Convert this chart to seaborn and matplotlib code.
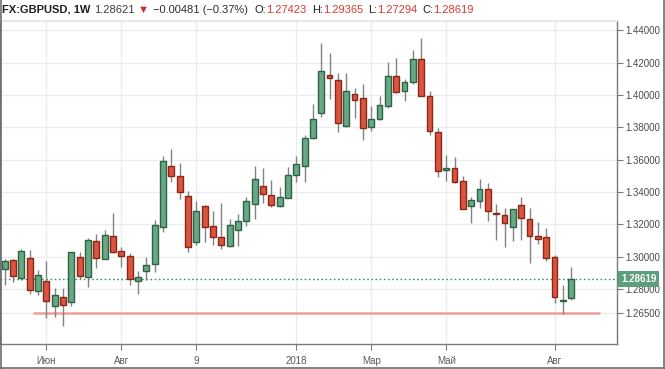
import numpy as np
import pandas as pd
import matplotlib
matplotlib.use("Agg")
import matplotlib.pyplot as plt
import matplotlib.transforms as mtransforms
from matplotlib.lines import Line2D
import seaborn as sns

# weekly GBPUSD candles, May 2017 -> Aug 2018
opens = [1.2922, 1.2980, 1.2868, 1.2990, 1.2786, 1.2850, 1.2695, 1.2749, 1.2718, 1.3000,
         1.2873, 1.3094, 1.2988, 1.3125, 1.3035, 1.3007, 1.2848, 1.2913, 1.2955, 1.3182,
         1.3563, 1.3497, 1.3374, 1.3091, 1.3314, 1.3188, 1.3122, 1.3067, 1.3163, 1.3220,
         1.3326, 1.3440, 1.3382, 1.3314, 1.3366, 1.3505, 1.3561, 1.3732, 1.3889, 1.4126,
         1.4091, 1.3808, 1.4006, 1.3980, 1.3800, 1.3850, 1.3932, 1.4119, 1.4023, 1.4079,
         1.4221, 1.3996, 1.3771, 1.3539, 1.3547, 1.3467, 1.3315, 1.3343, 1.3417, 1.3268,
         1.3255, 1.3186, 1.3321, 1.3231, 1.3125, 1.3120, 1.2996, 1.2726, 1.27423]
highs = [1.2986, 1.2986, 1.3048, 1.3041, 1.2918, 1.2973, 1.2806, 1.2805, 1.3032, 1.3027,
         1.3116, 1.3140, 1.3165, 1.3272, 1.3058, 1.3023, 1.2912, 1.2996, 1.3227, 1.3623,
         1.3666, 1.3578, 1.3406, 1.3346, 1.3317, 1.3283, 1.3329, 1.3233, 1.3267, 1.3369,
         1.3561, 1.3549, 1.3474, 1.3433, 1.3557, 1.3623, 1.3753, 1.3944, 1.4323, 1.4262,
         1.4138, 1.4134, 1.4041, 1.4066, 1.3930, 1.3994, 1.4204, 1.4227, 1.4097, 1.4278,
         1.4353, 1.4025, 1.3794, 1.3627, 1.3617, 1.3499, 1.3369, 1.3479, 1.3454, 1.3326,
         1.3301, 1.3295, 1.3370, 1.3300, 1.3216, 1.3176, 1.3009, 1.2825, 1.29365]
lows = [1.2825, 1.2844, 1.2856, 1.2769, 1.2763, 1.2619, 1.2624, 1.2571, 1.2695, 1.2862,
        1.2810, 1.2933, 1.2983, 1.3025, 1.2938, 1.2825, 1.2769, 1.2856, 1.2907, 1.3151,
        1.3460, 1.3355, 1.3032, 1.3072, 1.3093, 1.3072, 1.3046, 1.3063, 1.3067, 1.3191,
        1.3231, 1.3330, 1.3306, 1.3310, 1.3363, 1.3464, 1.3464, 1.3728, 1.3862, 1.3977,
        1.3769, 1.3805, 1.3860, 1.3720, 1.3776, 1.3845, 1.3917, 1.4012, 1.3965, 1.4068,
        1.3994, 1.3753, 1.3493, 1.3470, 1.3456, 1.3295, 1.3210, 1.3304, 1.3218, 1.3105,
        1.3057, 1.3099, 1.3106, 1.2959, 1.3077, 1.2975, 1.2712, 1.2644, 1.27294]
closes = [1.2973, 1.2878, 1.3035, 1.2791, 1.2885, 1.2724, 1.2765, 1.2703, 1.3026, 1.2878,
          1.3102, 1.2990, 1.3136, 1.3031, 1.3006, 1.2864, 1.2874, 1.2947, 1.3193, 1.3592,
          1.3496, 1.3400, 1.3062, 1.3283, 1.3186, 1.3124, 1.3072, 1.3193, 1.3221, 1.3344,
          1.3479, 1.3388, 1.3320, 1.3367, 1.3507, 1.3571, 1.3732, 1.3850, 1.4147, 1.4107,
          1.3825, 1.4023, 1.3967, 1.3798, 1.3850, 1.3938, 1.4119, 1.4017, 1.4080, 1.4221,
          1.3996, 1.3776, 1.3528, 1.3547, 1.3460, 1.3298, 1.3349, 1.3417, 1.3281, 1.3261,
          1.3207, 1.3293, 1.3237, 1.3129, 1.3108, 1.2994, 1.2753, 1.2732, 1.28619]

month_ticks = [5, 14, 23, 35, 44, 53, 66]
month_labels = ["Июн", "Авг", "9", "2018", "Мар", "Май", "Авг"]
price_ticks = [1.265, 1.28, 1.30, 1.32, 1.34, 1.36, 1.38, 1.40, 1.42, 1.44]

last_price = 1.28619
support_level = 1.265
support_from, support_to = 3.4, 71.5

GREEN, GREEN_EDGE = "#6aa784", "#2a6444"
RED, RED_EDGE = "#d9553f", "#8c2618"
WICK = "#838383"

df = pd.DataFrame({"open": opens, "high": highs, "low": lows, "close": closes})
df["week"] = np.arange(len(df))
df["up"] = df["close"] >= df["open"]

sns.set_theme(style="whitegrid", rc={"grid.color": "#ececec", "grid.linewidth": 1.0,
                                     "axes.edgecolor": "#7a7a7a"})
plt.rcParams["font.family"] = ["Liberation Sans", "DejaVu Sans"]

fig = plt.figure(figsize=(6.65, 3.69), dpi=100)
fig.patch.set_facecolor("white")
ax = fig.add_axes([0, 25 / 369, 617 / 665, 323 / 369])

# wicks then bodies
ax.vlines(df["week"], df["low"], df["high"], color=WICK, lw=1, zorder=2)
for is_up, fc, ec in [(True, GREEN, GREEN_EDGE), (False, RED, RED_EDGE)]:
    sub = df[df["up"] == is_up]
    body = (sub["close"] - sub["open"]).abs()
    ax.bar(sub["week"], body, bottom=np.minimum(sub["open"], sub["close"]),
           width=0.7, color=fc, edgecolor=ec, linewidth=1.0, zorder=3)

# horizontal support line + last price line
ax.plot([support_from, support_to], [support_level, support_level],
        color="#f0a096", lw=1.8, zorder=1, solid_capstyle="butt")
ax.axhline(last_price, color="#2f9a5c", lw=1.0, ls=(0, (1.2, 1.8)), zorder=1)

ax.set_xlim(-0.56, 73.5)
ax.set_ylim(1.24601, 1.44576)

ax.set_xticks(month_ticks)
ax.set_xticklabels(month_labels)
for lbl in ax.get_xticklabels():
    lbl.set_color("#333333" if lbl.get_text() == "2018" else "#5a5a5a")
ax.yaxis.tick_right()
ax.set_yticks(price_ticks)
ax.set_yticklabels([f"{p:.5f}" for p in price_ticks])
ax.tick_params(axis="y", direction="out", length=4, width=0.8, color="#7a7a7a",
               labelsize=7, labelcolor="#4a4a4a", pad=2, right=True, left=False)
ax.tick_params(axis="x", direction="out", length=4, width=0.8, color="#7a7a7a",
               labelsize=7, labelcolor="#5a5a5a", pad=5, bottom=True)
ax.grid(True, color="#ececec", lw=1)
for side in ["left", "bottom", "right"]:
    ax.spines[side].set_color("#7a7a7a")
    ax.spines[side].set_linewidth(1)
ax.spines["top"].set_color("#e4e4e4")

# last price tag on the axis
ax.annotate(f"{last_price:.5f}", xy=(1, last_price), xycoords=ax.get_yaxis_transform(),
            xytext=(3, 0), textcoords="offset points", ha="left", va="center",
            color="white", fontsize=7, fontweight="bold", zorder=5,
            bbox=dict(boxstyle="square,pad=0.3", fc="#5d9f7b", ec="none"),
            annotation_clip=False)

# frame around the whole picture
for xs, ys in [([0.5, 0.5], [0, 369]), ([0, 665], [1, 1]), ([664, 664], [0, 369])]:
    fig.add_artist(Line2D(xs, ys, color="#6e6e6e", lw=1.2,
                          transform=mtransforms.IdentityTransform()))

# header line with coloured pieces, laid out one after another
renderer = fig.canvas.get_renderer()
parts = [("FX:GBPUSD, 1W", "#1e1e1e", "bold", 8, 4),
         ("1.28621", "#3c3c3c", "normal", 8, 3),
         ("▼", "#cc2a20", "normal", 8, 4),
         ("\u22120.00481 (\u22120.37%)", "#2e2e2e", "normal", 8, 7),
         ("O:", "#1e1e1e", "normal", 8, 0), ("1.27423", "#d9392f", "normal", 8, 5),
         ("H:", "#1e1e1e", "normal", 8, 0), ("1.29365", "#d9392f", "normal", 8, 5),
         ("L:", "#1e1e1e", "normal", 8, 0), ("1.27294", "#d9392f", "normal", 8, 5),
         ("C:", "#1e1e1e", "normal", 8, 0), ("1.28619", "#d9392f", "normal", 8, 0)]
x = 2
for text, color, weight, size, gap in parts:
    t = fig.text(x, 369 - 10, text, color=color, fontweight=weight, fontsize=size,
                 va="center", ha="left", transform=mtransforms.IdentityTransform())
    x = t.get_window_extent(renderer).x1 + gap

fig.savefig("out.png", dpi=100)
